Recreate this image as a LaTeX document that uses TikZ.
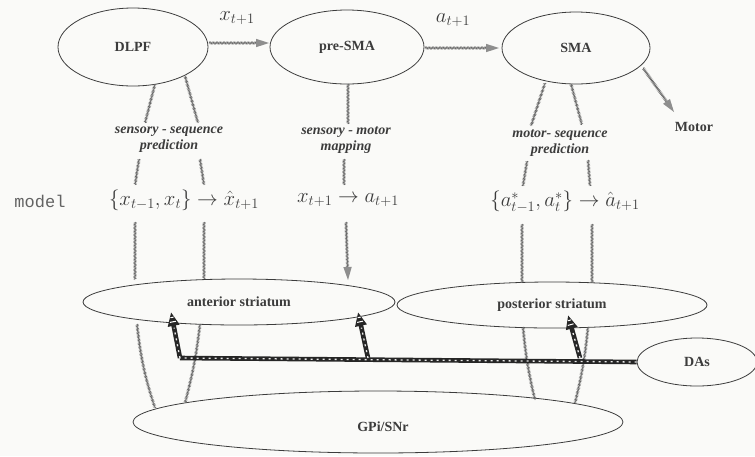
\documentclass[tikz,border=0pt]{standalone}
\usepackage{fontspec}
\setmainfont{Liberation Serif}
\newfontfamily\monof{Liberation Mono}
\usetikzlibrary{shapes.geometric,decorations.pathmorphing,arrows.meta,calc}
\definecolor{bgc}{RGB}{250,250,248}
\definecolor{inkc}{RGB}{60,60,60}
\definecolor{hatchc}{RGB}{105,105,105}
\tikzset{
  area/.style={ellipse, draw=inkc, line width=0.8pt, inner sep=0pt, text=inkc,
    font=\fontsize{14}{16}\selectfont\bfseries},
  hatch/.style={draw=hatchc, line width=0.45pt, decorate,
    decoration={zigzag, segment length=1.4pt, amplitude=1.1pt}},
  hatchhead/.style={fill=hatchc!75},
  itlabel/.style={text=inkc, align=center, font=\fontsize{14}{16}\selectfont\bfseries\itshape},
  formula/.style={text=inkc, font=\fontsize{20}{24}\selectfont},
  dashaft/.style={draw=black!85, line width=4.6pt},
  dawhite/.style={draw=white!92!black, line width=1.3pt, dash pattern=on 2pt off 4pt},
}
\newcommand\hatcharrow[2]{%
  \draw[hatch] (#1) -- ($(#2)!11pt!(#1)$);
  \coordinate (hh) at ($(#2)!13pt!(#1)$);
  \fill[hatchhead] (#2) -- ($(hh)!4.2pt!90:(#2)$) -- ($(hh)!4.2pt!-90:(#2)$) -- cycle;}
\newcommand\daarrow[2]{%
  \draw[dashaft, -{Triangle[length=14pt,width=11pt]}] (#1) -- (#2);
  \draw[dawhite] (#1) -- ($(#2)!16pt!(#1)$);
  \coordinate (hb) at ($(#2)!10pt!(#1)$);
  \draw[white, line width=1pt] ($(hb)!3pt!90:(#2)$) -- ($(hb)!3pt!-90:(#2)$);
  \coordinate (hb) at ($(#2)!5.5pt!(#1)$);
  \draw[white, line width=1pt] ($(hb)!1.6pt!90:(#2)$) -- ($(hb)!1.6pt!-90:(#2)$);}
\begin{document}
\begin{tikzpicture}[x=1pt,y=-1pt]
\fill[bgc] (0,0) rectangle (755,456);
\useasboundingbox (0,0) rectangle (755,456);

% top ellipses
\node[area, minimum width=150pt, minimum height=78pt] (dlpf) at (133,47) {DLPF};
\node[area, minimum width=154pt, minimum height=74pt] (presma) at (347,47) {pre-SMA};
\node[area, minimum width=148pt, minimum height=72pt] (sma) at (576,48) {SMA};

% striata etc.
\node[area, minimum width=312pt, minimum height=46pt] (ant) at (239,302) {anterior striatum};
\node[area, minimum width=310pt, minimum height=46pt] (post) at (552,305) {posterior striatum};
\node[area, minimum width=120pt, minimum height=48pt] (das) at (697,362) {DAs};
\node[area, minimum width=490pt, minimum height=62pt] (gpi) at (378,422) {};
\node[text=inkc, font=\fontsize{14}{16}\selectfont\bfseries] (gpit) at (383,427) {GPi/SNr};

% text labels
\node[formula] (lx) at (237,18) {$x_{t+1}$};
\node[formula] (la) at (453,20) {$a_{t+1}$};
\node[text=inkc, font=\fontsize{14}{16}\selectfont\bfseries] (motor) at (694,127) {Motor};
\node[itlabel] (ssp) at (169,140) {sensory - sequence\\prediction};
\node[itlabel] (smm) at (346,140) {sensory - motor\\mapping};
\node[itlabel] (msp) at (560,143) {motor- sequence\\prediction};
\node[text=inkc!80, font=\fontsize{17}{20}\monof] (model) at (40,201) {model};
\node[formula, inner sep=1pt] (f1) at (184,200) {$\{x_{t-1},x_t\}\rightarrow\hat{x}_{t+1}$};
\node[formula, inner sep=1pt] (f2) at (348,200) {$x_{t+1}\rightarrow a_{t+1}$};
\node[formula, inner sep=1pt] (f3) at (565,202) {$\{a^{*}_{t-1},a^{*}_{t}\}\rightarrow\hat{a}_{t+1}$};

% coordinates for hatched connectors
\coordinate (a1s) at (209,43); \coordinate (a1e) at (269,43);
\coordinate (a2s) at (425,48); \coordinate (a2e) at (499,48);
\coordinate (m1s) at (643,68); \coordinate (m1e) at (674,112);
% DLPF column
\coordinate (d1a) at (155,84); \coordinate (d1b) at (145,123);
\coordinate (d2a) at (185,76); \coordinate (d2b) at (198,123);
\coordinate (d3a) at (139,159); \coordinate (d3b) at (135,185);
\coordinate (d4a) at (200,159); \coordinate (d4b) at (204,185);
\coordinate (d5a) at (135,222); \coordinate (d5b) at (135,280);
\coordinate (d6a) at (204,222); \coordinate (d6b) at (204,279);
\coordinate (d7a) at (137,324); \coordinate (d7b) at (155,408);
\coordinate (d8a) at (200,324); \coordinate (d8b) at (185,403);
% pre-SMA column
\coordinate (p1a) at (348,84); \coordinate (p1b) at (348,124);
\coordinate (p2a) at (344,159); \coordinate (p2b) at (344,185);
\coordinate (p3a) at (346,222); \coordinate (p3b) at (348,280);
% SMA column
\coordinate (s1a) at (545,83); \coordinate (s1b) at (531,126);
\coordinate (s2a) at (571,84); \coordinate (s2b) at (582,125);
\coordinate (s3a) at (527,161); \coordinate (s3b) at (523,186);
\coordinate (s4a) at (588,160); \coordinate (s4b) at (590,186);
\coordinate (s5a) at (522,224); \coordinate (s5b) at (522,283);
\coordinate (s6a) at (592,224); \coordinate (s6b) at (592,283);
\coordinate (s7a) at (523,327); \coordinate (s7b) at (535,400);
\coordinate (s8a) at (588,327); \coordinate (s8b) at (575,403);

\hatcharrow{a1s}{a1e}
\hatcharrow{a2s}{a2e}
\hatcharrow{m1s}{m1e}
\hatcharrow{p3a}{p3b}
\foreach \p in {d1,d2,d3,d4,d5,d6,p1,p2,s1,s2,s3,s4,s5,s6}{
  \draw[hatch] (\p a) -- (\p b);}
\draw[hatch] (d7a) to[bend right=6] (d7b);
\draw[hatch] (d8a) to[bend left=4] (d8b);
\draw[hatch] (s7a) to[bend right=4] (s7b);
\draw[hatch] (s8a) to[bend left=4] (s8b);

% DA pathway
\coordinate (c1) at (180,358);
\coordinate (c2) at (368,358);
\coordinate (c3) at (580,358);
\coordinate (t1) at (171,312);
\coordinate (t2) at (358,312);
\coordinate (t3) at (568,315);
\draw[dashaft] (das.west) -- (c1);
\draw[dawhite] (das.west) -- (c1);
\daarrow{c1}{t1}
\daarrow{c2}{t2}
\daarrow{c3}{t3}
\end{tikzpicture}
\end{document}
